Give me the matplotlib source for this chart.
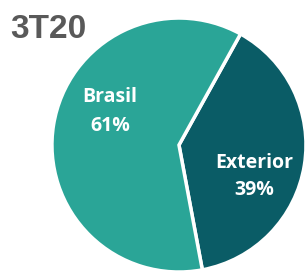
import matplotlib
matplotlib.use("Agg")
import matplotlib.pyplot as plt

# Dados do gráfico
categorias = ["Exterior", "Brasil"]
valores = [39, 61]
cores = ["#0A5C66", "#2AA597"]
titulo = "3T20"

fig = plt.figure(figsize=(3.07, 2.71), dpi=100)
ax = fig.add_axes([0, 0, 1, 1])

ax.pie(valores, colors=cores, startangle=61, counterclock=False, radius=1.0,
       wedgeprops=dict(edgecolor="white", linewidth=2.5))

ax.set_aspect("auto")
ax.set_xlim(-1.409, 1.008)
ax.set_ylim(-0.992, 1.142)
ax.axis("off")

# Rótulos (nome + percentual, em linhas separadas)
estilo = dict(color="white", fontsize=14, fontweight="bold", family="Open Sans",
              ha="center", va="baseline")
ax.text(-0.543, 0.339, categorias[1], **estilo)
ax.text(-0.543, 0.110, f"{valores[1]}%", **estilo)
ax.text(0.591, -0.181, categorias[0], **estilo)
ax.text(0.591, -0.394, f"{valores[0]}%", **estilo)

fig.text(0.033, 0.860, titulo, color="#595959", fontsize=24, fontweight="bold",
         family="Liberation Sans", ha="left", va="baseline")

fig.savefig("out.png", dpi=100)
